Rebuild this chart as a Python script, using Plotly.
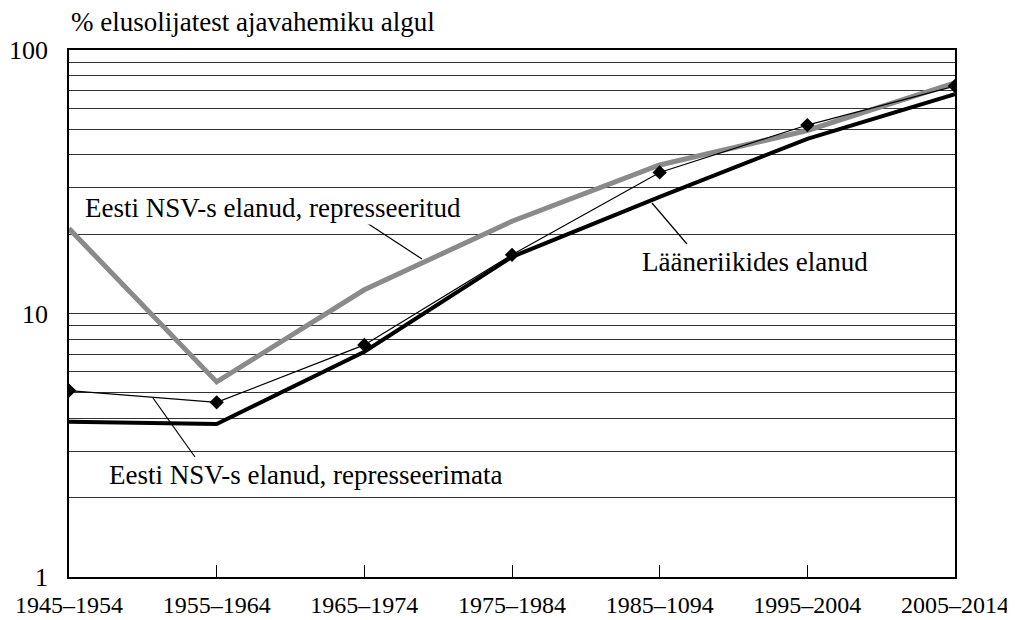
import plotly.graph_objects as go

categories = ["1945–1954", "1955–1964", "1965–1974", "1975–1984", "1985–1094", "1995–2004", "2005–2014"]
repressed = [21.0, 5.5, 12.3, 22.4, 36.6, 49.5, 75.0]
not_repressed = [5.1, 4.6, 7.6, 16.7, 34.3, 51.9, 73.0]
western = [3.88, 3.81, 7.16, 16.4, 27.7, 46.0, 68.0]

y_tickvals = [1, 2, 3, 4, 5, 6, 7, 8, 9, 10, 20, 30, 40, 50, 60, 70, 80, 90, 100]
y_ticktext = ["1", "", "", "", "", "", "", "", "", "10", "", "", "", "", "", "", "", "", "100"]

FONT = "Liberation Serif, Times New Roman, DejaVu Serif, serif"
FS = 27
xs = list(range(len(categories)))

fig = go.Figure()
fig.add_trace(go.Scatter(x=xs, y=repressed, mode="lines",
                         line=dict(color="#8a8a8a", width=5), showlegend=False))
fig.add_trace(go.Scatter(x=xs, y=western, mode="lines",
                         line=dict(color="black", width=4), showlegend=False))
fig.add_trace(go.Scatter(x=xs, y=not_repressed, mode="lines+markers",
                         line=dict(color="black", width=1.2),
                         marker=dict(symbol="diamond", size=11, color="black"),
                         showlegend=False))

fig.update_layout(
    width=1007, height=612,
    margin=dict(l=61, r=60, t=42, b=43),
    paper_bgcolor="white", plot_bgcolor="white",
    font=dict(family=FONT, size=FS, color="black"),
    xaxis=dict(range=[0, len(categories) - 1], tickvals=xs, ticktext=categories,
               showgrid=False, zeroline=False, showline=True, linecolor="black",
               linewidth=1.5, mirror=True, ticks="inside", ticklen=12,
               tickcolor="black", tickwidth=1, tickfont=dict(family=FONT, size=24),
               automargin=False, ticklabelstandoff=5, ticklabeloverflow="allow"),
    yaxis=dict(type="log", range=[0, 2], tickvals=y_tickvals, ticktext=y_ticktext,
               showgrid=True, gridcolor="#333333", gridwidth=1,
               zeroline=False, showline=True, linecolor="black", linewidth=1.5,
               mirror=True, ticks="", ticklabelstandoff=14,
               tickfont=dict(family=FONT, size=26), automargin=False,
               ticklabeloverflow="allow"),
)

fig.add_annotation(text="% elusolijatest ajavahemiku algul", xref="paper", yref="paper",
                   x=0.0, y=1.053, xanchor="left", yanchor="middle", showarrow=False,
                   font=dict(family=FONT, size=FS))

labels = [
    ("Eesti NSV-s elanud, represseeritud", 0.0158, 0.700),
    ("Eesti NSV-s elanud, represseerimata", 0.0429, 0.1935),
    ("Lääneriikides elanud", 0.6445, 0.5977),
]
for text, lx, ly in labels:
    fig.add_annotation(text=text, xref="paper", yref="paper", x=lx, y=ly,
                       xanchor="left", yanchor="middle", showarrow=False,
                       font=dict(family=FONT, size=FS), bgcolor="white")

leaders = [
    (0.3363, 0.6717, 0.3984, 0.6034),
    (0.0948, 0.3397, 0.1422, 0.2277),
    (0.6580, 0.7097, 0.6975, 0.6319),
]
for x0, y0, x1, y1 in leaders:
    fig.add_shape(type="line", xref="paper", yref="paper", x0=x0, y0=y0, x1=x1, y1=y1,
                  line=dict(color="black", width=1.2))

fig.write_html("out.html")
